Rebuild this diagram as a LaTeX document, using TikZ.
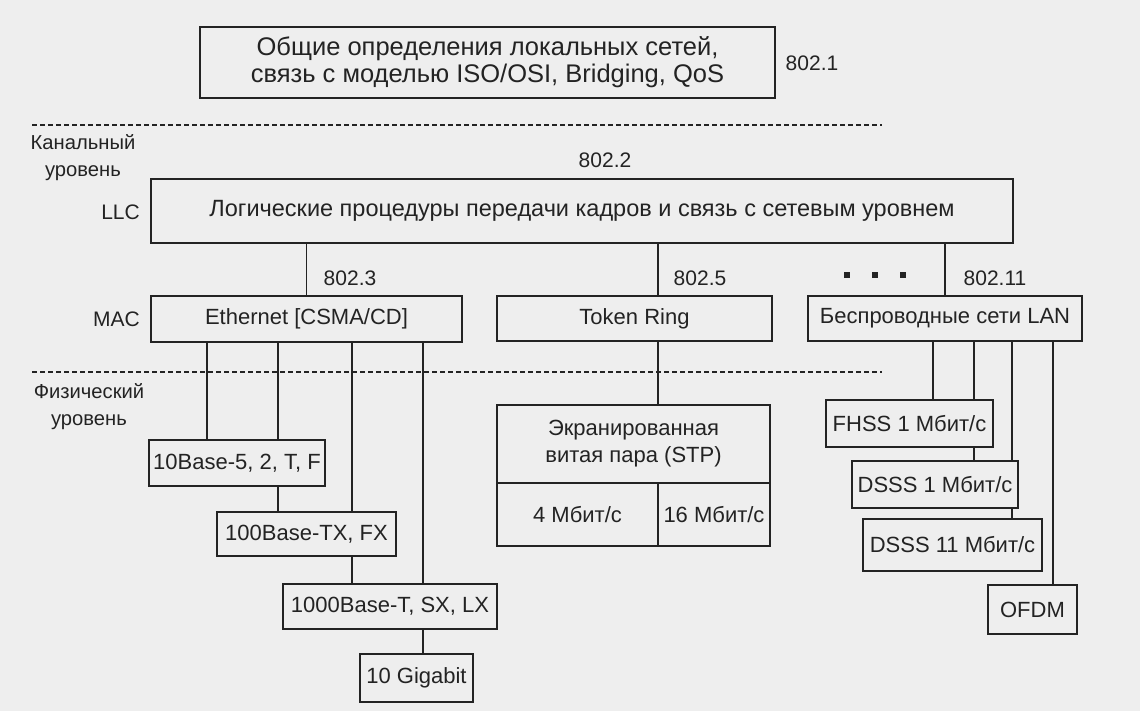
\documentclass[tikz,border=0pt]{standalone}
\usepackage{fontspec}
\setmainfont{Liberation Sans}
\definecolor{bg}{RGB}{238,238,238}
\definecolor{linec}{RGB}{35,35,35}
\definecolor{txt}{RGB}{35,35,35}
\newcommand{\fsz}{\fontsize{22}{27}\selectfont}
\newcommand{\fsl}{\fontsize{21}{27}\selectfont}
\newcommand{\fss}{\fontsize{20.2}{27}\selectfont}
\begin{document}
\begin{tikzpicture}[x=1pt,y=-1pt,
  box/.style={draw=linec, line width=1.7pt, inner sep=0pt, align=center, text=txt, font=\fsz},
  lbl/.style={text=txt, font=\fsl, inner sep=0pt, align=center},
  conn/.style={draw=linec, line width=1.7pt},
  layer/.style={draw=linec, line width=1.5pt, dash pattern=on 5pt off 3pt}]
\fill[bg] (0,0) rectangle (1140,711);
\useasboundingbox (0,0) rectangle (1140,711);

% layer separators
\coordinate (s1a) at (32,125); \coordinate (s1b) at (882,125);
\coordinate (s2a) at (32,372); \coordinate (s2b) at (882,372);
\draw[layer] (s1a) -- (s1b);
\draw[layer] (s2a) -- (s2b);

% left labels
\node[lbl, font=\fss] (kan) at (83,158) {Канальный\\уровень};
\node[lbl, font=\fss] (fiz) at (89,407) {Физический\\уровень};
\node[lbl, anchor=east] (llclbl) at (140,212) {LLC};
\node[lbl, anchor=east] (maclbl) at (140,319) {MAC};

% top
\node[box, minimum width=575pt, minimum height=71pt, font=\fontsize{25.5}{27}\selectfont] (top) at (487.5,62.5)
  {Общие определения локальных сетей,\\связь с моделью ISO/OSI, Bridging, QoS};
\node[lbl] (n8021) at (812,63) {802.1};

% LLC
\node[lbl] (n8022) at (605,160) {802.2};
\node[box, minimum width=862pt, minimum height=64pt, font=\fontsize{23.5}{27}\selectfont] (llc) at (582,211)
  {Логические процедуры передачи кадров и связь с сетевым уровнем};

% MAC
\node[box, minimum width=311pt, minimum height=46pt] (eth) at (306.5,319) {Ethernet [CSMA/CD]};
\node[box, minimum width=275pt, minimum height=45pt] (tr) at (634.5,318.5) {Token Ring};
\node[box, minimum width=274pt, minimum height=45pt] (wl) at (945,318.5) {Беспроводные сети LAN};

\node[lbl] (n8023) at (350,278) {802.3};
\node[lbl] (n8025) at (700,278) {802.5};
\node[lbl] (n80211) at (995,278) {802.11};
\foreach \i/\x in {1/847,2/875,3/903}
  \node[fill=linec, minimum size=6pt, inner sep=0pt] (dot\i) at (\x,275) {};

\coordinate (ctr) at (658,0);
\draw[conn] (llc.south -| eth.north) -- (eth.north);
\draw[conn] (llc.south -| ctr) -- (tr.north -| ctr);
\draw[conn] (llc.south -| wl.north) -- (wl.north);

% Ethernet physical
\node[box, minimum width=176pt, minimum height=46pt] (b10) at (237,463) {10Base-5, 2, T, F};
\node[box, minimum width=179pt, minimum height=44pt] (b100) at (306.5,534) {100Base-TX, FX};
\node[box, minimum width=214pt, minimum height=45pt] (b1000) at (390,606.5) {1000Base-T, SX, LX};
\node[box, minimum width=113pt, minimum height=48pt] (g10) at (416.5,678) {10 Gigabit};

\coordinate (e1) at (207,0); \coordinate (e2) at (278,0);
\coordinate (e3) at (352,0); \coordinate (e4) at (423,0);
\draw[conn] (eth.south -| e1) -- (b10.north -| e1);
\draw[conn] (eth.south -| e2) -- (b10.north -| e2);
\draw[conn] (b10.south -| e2) -- (b100.north -| e2);
\draw[conn] (eth.south -| e3) -- (b100.north -| e3);
\draw[conn] (b100.south -| e3) -- (b1000.north -| e3);
\draw[conn] (eth.south -| e4) -- (b1000.north -| e4);
\draw[conn] (b1000.south -| e4) -- (g10.north -| e4);

% Token Ring physical
\node[box, minimum width=273pt, minimum height=78pt] (stp) at (633.5,444)
  {Экранированная\\витая пара (STP)};
\node[box, minimum width=161pt, minimum height=63pt] (s4) at (577.5,514.5) {4 Мбит/с};
\node[box, minimum width=112pt, minimum height=63pt] (s16) at (714,514.5) {16 Мбит/с};
\draw[conn] (tr.south -| ctr) -- (stp.north -| ctr);

% Wireless physical
\node[box, minimum width=167pt, minimum height=47pt] (fhss) at (909.5,423.5) {FHSS 1 Мбит/с};
\node[box, minimum width=166pt, minimum height=47pt] (d1) at (935,484.5) {DSSS 1 Мбит/с};
\node[box, minimum width=179pt, minimum height=52pt] (d11) at (952.5,545) {DSSS 11 Мбит/с};
\node[box, minimum width=89pt, minimum height=49pt] (ofdm) at (1032.5,609.5) {OFDM};

\coordinate (w1) at (933,0); \coordinate (w2) at (974,0);
\coordinate (w3) at (1012,0); \coordinate (w4) at (1053,0);
\draw[conn] (wl.south -| w1) -- (fhss.north -| w1);
\draw[conn] (wl.south -| w2) -- (fhss.north -| w2);
\draw[conn] (fhss.south -| w2) -- (d1.north -| w2);
\draw[conn] (wl.south -| w3) -- (d1.north -| w3);
\draw[conn] (d1.south -| w3) -- (d11.north -| w3);
\draw[conn] (wl.south -| w4) -- (ofdm.north -| w4);
\end{tikzpicture}
\end{document}
